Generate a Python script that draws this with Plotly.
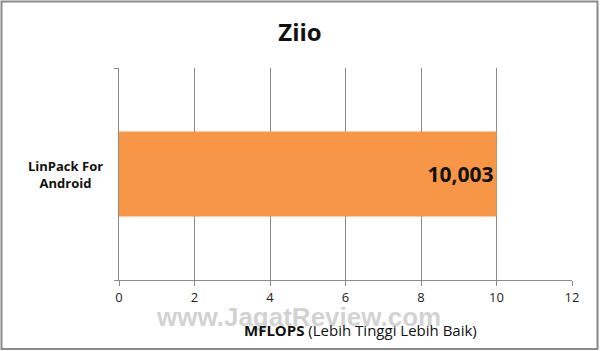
import plotly.graph_objects as go

categories = ["LinPack For<br>Android"]
values = [10.003]
value_labels = ["10,003"]
x_ticks = [0, 2, 4, 6, 8, 10, 12]

W, H = 600, 351
L, R, T, B = 119, 28, 68, 71
pw, ph = W - L - R, H - T - B

def px_x(x):
    return (x - L) / pw

def px_y(y):
    return (H - B - y) / ph

fig = go.Figure()
fig.add_trace(go.Bar(
    x=values, y=[0], orientation="h", width=0.4,
    marker=dict(color="#F79646", line=dict(width=0)),
    text=value_labels, textposition="inside", insidetextanchor="end",
    textfont=dict(family="Open Sans", size=21, color="#111111", weight="bold"),
    cliponaxis=False, hoverinfo="skip",
))

fig.update_layout(
    width=W, height=H,
    margin=dict(l=L, r=R, t=T, b=B),
    paper_bgcolor="white", plot_bgcolor="white",
    showlegend=False,
    title=dict(text="<b>Ziio</b>", x=0.5, xref="container", xanchor="center",
               y=1 - 33 / H, yanchor="middle",
               font=dict(family="Open Sans", size=24, color="#111111")),
    xaxis=dict(range=[0, 12], tickvals=x_ticks, ticktext=[str(t) for t in x_ticks],
               showgrid=True, gridcolor="#8a8a8a", gridwidth=1,
               zeroline=False, showline=True, linecolor="#8a8a8a", linewidth=1,
               ticks="outside", ticklen=5, tickcolor="#8a8a8a",
               tickfont=dict(family="Open Sans", size=13, color="#222222")),
    yaxis=dict(range=[-0.5, 0.5], tickvals=[-0.5, 0.5], showticklabels=False,
               showgrid=False, zeroline=False, showline=True,
               linecolor="#8a8a8a", linewidth=1,
               ticks="outside", ticklen=4, tickcolor="#8a8a8a"),
)

fig.add_annotation(text="<b>" + categories[0] + "</b>", xref="paper", yref="paper",
                   x=px_x(65), y=px_y(174), xanchor="center", yanchor="middle",
                   showarrow=False, align="center",
                   font=dict(family="Open Sans", size=13, color="#111111"))

fig.add_annotation(text="www.JagatReview.com", xref="paper", yref="paper",
                   x=px_x(298), y=px_y(317), xanchor="center", yanchor="middle",
                   showarrow=False,
                   font=dict(family="Liberation Sans", size=26, color="rgba(190,190,190,0.7)", weight="bold"))

fig.add_annotation(text="<b>MFLOPS</b> (Lebih Tinggi Lebih Baik)", xref="paper", yref="paper",
                   x=px_x(360), y=px_y(330), xanchor="center", yanchor="middle",
                   showarrow=False,
                   font=dict(family="Open Sans", size=15, color="#111111"))

fig.add_shape(type="rect", xref="paper", yref="paper",
              x0=px_x(1.5), x1=px_x(597.5), y0=px_y(349), y1=px_y(1.5),
              line=dict(color="#8a8a8a", width=2), fillcolor="rgba(0,0,0,0)", layer="above")

fig.write_html("out.html")
